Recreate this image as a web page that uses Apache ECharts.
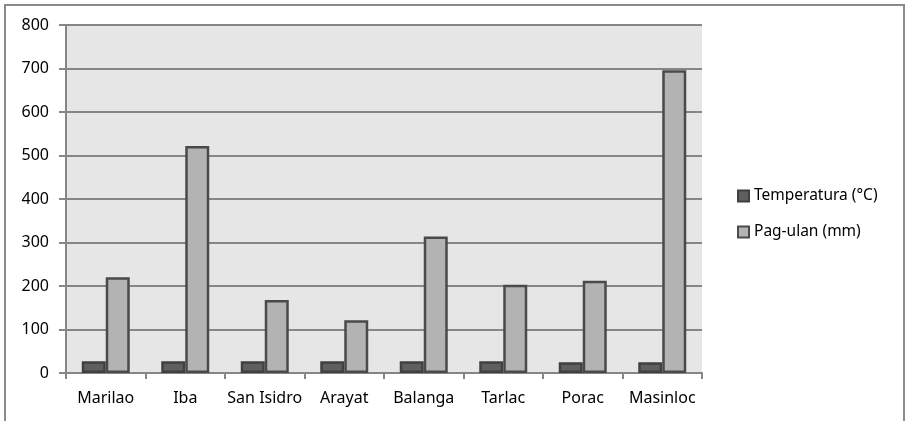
<!DOCTYPE html>
<html>
<head>
<meta charset="utf-8">
<script src="https://cdn.jsdelivr.net/npm/echarts@6/dist/echarts.min.js"></script>
<style>html,body{margin:0;padding:0;background:#fff}#c{width:907px;height:421px}</style>
</head>
<body>
<div id="c"></div>
<script>
var categories = ['Marilao', 'Iba', 'San Isidro', 'Arayat', 'Balanga', 'Tarlac', 'Porac', 'Masinloc'];
var temperatura = [27, 27, 27, 27, 27, 27, 25, 25];
var pagulan = [220, 522, 168, 121, 314, 203, 212, 696];
var seriesNames = ['Temperatura (°C)', 'Pag-ulan (mm)'];

var chart = echarts.init(document.getElementById('c'));
var font = 'Noto Sans';
chart.setOption({
  animation: false,
  backgroundColor: '#ffffff',
  graphic: [{
    type: 'rect',
    shape: { x: 5, y: 5, width: 899, height: 440 },
    style: { fill: 'none', stroke: '#8a8a8a', lineWidth: 2 },
    silent: true
  }],
  grid: {
    left: 66, right: 205, top: 25, bottom: 48,
    show: true, backgroundColor: '#e6e6e6', borderWidth: 0
  },
  legend: {
    orient: 'vertical',
    left: 732, top: 183,
    itemWidth: 11, itemHeight: 11,
    itemGap: 20,
    icon: 'rect',
    textStyle: { fontFamily: font, fontSize: 15.5, color: '#000', padding: [0, 0, 0, 0] },
    data: seriesNames
  },
  xAxis: {
    type: 'category',
    data: categories,
    axisLine: { lineStyle: { color: '#868686', width: 2 } },
    axisTick: { show: true, length: 6, lineStyle: { color: '#868686', width: 2 } },
    axisLabel: { interval: 0, fontFamily: font, fontSize: 16, color: '#000', margin: 17 }
  },
  yAxis: {
    type: 'value',
    min: 0, max: 800, interval: 100,
    axisLine: { show: true, lineStyle: { color: '#868686', width: 2 } },
    axisTick: { show: true, length: 7, lineStyle: { color: '#868686', width: 2 } },
    axisLabel: { fontFamily: font, fontSize: 16, color: '#000', margin: 17 },
    splitLine: { lineStyle: { color: '#868686', width: 2 } }
  },
  series: [{
    name: seriesNames[0],
    type: 'bar',
    data: temperatura,
    barWidth: 24,
    barGap: '0%',
    itemStyle: { color: '#5f5f5f', borderColor: '#404040', borderWidth: 2.5 }
  }, {
    name: seriesNames[1],
    type: 'bar',
    data: pagulan,
    barWidth: 24,
    barGap: '0%',
    itemStyle: { color: '#b3b3b3', borderColor: '#4a4a4a', borderWidth: 2.5 }
  }]
});
</script>
</body>
</html>
